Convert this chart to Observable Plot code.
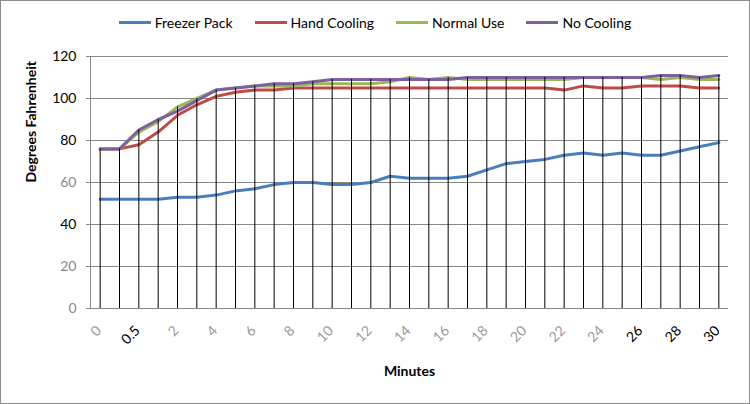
<!DOCTYPE html>
<html>
<head>
<meta charset="utf-8">
<script src="https://cdn.jsdelivr.net/npm/d3@7"></script>
<script src="https://cdn.jsdelivr.net/npm/@observablehq/plot@0.6"></script>
<style>
  html, body { margin: 0; padding: 0; background: #fff; }
  #wrap { width: 750px; height: 404px; box-sizing: border-box; border: 1px solid #8c8c8c; overflow: hidden; font-family: Lato, "Open Sans", sans-serif; background: #fff; }
  #legend { height: 40px; display: flex; justify-content: center; align-items: center; padding-top: 2px; box-sizing: border-box; font-size: 14px; color: #000; }
  .item { display: flex; align-items: center; margin: 0 11px; }
  .sw { width: 32px; height: 3px; margin-right: 4px; }
  svg { display: block; }
</style>
</head>
<body>
<div id="wrap">
  <div id="legend"></div>
  <div id="chart"></div>
</div>
<script>
// Categories (minutes) and tick labels
const minutes = ["0","0.25","0.5","1","2","3","4","5","6","7","8","9","10","11","12","13","14","15","16","17","18","19","20","21","22","23","24","25","26","27","28","29","30"];
const labelsGray = ["0","2","4","6","8","10","12","14","16","18","20","22","24"];
const labelsDark = ["0.5","26","28","30"];

// Series values (degrees Fahrenheit)
const freezerPack = [52,52,52,52,53,53,54,56,57,59,60,60,59,59,60,63,62,62,62,63,66,69,70,71,73,74,73,74,73,73,75,77,79];
const handCooling = [76,76,78,84,92,97,101,103,104,104,105,105,105,105,105,105,105,105,105,105,105,105,105,105,104,106,105,105,106,106,106,105,105];
const normalUse   = [76,76,84,89,96,100,104,105,106,106,106,107,107,107,107,108,110,109,110,109,109,109,109,109,109,110,110,110,110,109,110,109,109];
const noCooling   = [76,76,85,90,94,99,104,105,106,107,107,108,109,109,109,109,109,109,109,110,110,110,110,110,110,110,110,110,110,111,111,110,111];

const seriesNames = ["Freezer Pack","Hand Cooling","Normal Use","No Cooling"];
const seriesColors = ["#4A7EBB","#BE4B48","#98B954","#7D60A0"];

const yTicks = [0,20,40,60,80,100,120];
const yTicksDark = [40,80,100,120];
const yTicksGray = [0,20,60];

const seriesValues = [freezerPack, handCooling, normalUse, noCooling];
const rows = [];
seriesNames.forEach((name, s) => {
  minutes.forEach((m, i) => rows.push({series: name, minute: m, value: seriesValues[s][i]}));
});
const drops = minutes.map((m, i) => ({minute: m, top: d3.max(seriesValues, v => v[i])}));

// Legend
const legend = document.getElementById("legend");
seriesNames.forEach((name, i) => {
  const it = document.createElement("div");
  it.className = "item";
  const sw = document.createElement("div");
  sw.className = "sw";
  sw.style.background = seriesColors[i];
  const tx = document.createElement("span");
  tx.textContent = name;
  it.appendChild(sw); it.appendChild(tx);
  legend.appendChild(it);
});

const chart = Plot.plot({
  width: 748,
  height: 362,
  marginTop: 15,
  marginBottom: 95,
  marginLeft: 89,
  marginRight: 21,
  style: {fontFamily: "Lato, 'Open Sans', sans-serif", fontSize: "14px", background: "#fff"},
  x: {type: "point", domain: minutes, padding: 0.5, round: false, axis: null},
  y: {domain: [0, 120], axis: null},
  color: {domain: seriesNames, range: seriesColors},
  marks: [
    Plot.ruleY(yTicks, {stroke: "#868686", strokeWidth: 1}),
    Plot.axisY({ticks: yTicks, tickSize: 4, tickFormat: () => "", stroke: "#868686", color: "#868686", label: null}),
    Plot.frame({anchor: "left", stroke: "#868686"}),
    Plot.line(rows, {x: "minute", y: "value", z: "series", stroke: "series", strokeWidth: 3, strokeLinejoin: "round"}),
    Plot.ruleX(drops, {x: "minute", y1: 0, y2: "top", stroke: "#000", strokeWidth: 1}),
    Plot.text(yTicksDark, {y: d => d, text: d => String(d), frameAnchor: "left", textAnchor: "end", dx: -14, fill: "#000", fontSize: 14}),
    Plot.text(yTicksGray, {y: d => d, text: d => String(d), frameAnchor: "left", textAnchor: "end", dx: -14, fill: "#8a8a8a", fontSize: 14}),
    Plot.text(labelsGray, {x: d => d, text: d => d, frameAnchor: "bottom", textAnchor: "end", rotate: -45, dx: 2, dy: 23, fill: "#9a9a9a", fontSize: 14}),
    Plot.text(labelsDark, {x: d => d, text: d => d, frameAnchor: "bottom", textAnchor: "end", rotate: -45, dx: 2, dy: 23, fill: "#000", fontSize: 14}),
    Plot.text(["Minutes"], {text: d => d, frameAnchor: "bottom", dy: 67, fontWeight: "bold", fontSize: 14, fill: "#000"}),
    Plot.text(["Degrees Fahrenheit"], {text: d => d, frameAnchor: "left", rotate: -90, dx: -59, fontWeight: "bold", fontSize: 14, fill: "#000"})
  ]
});
document.getElementById("chart").appendChild(chart);
</script>
</body>
</html>
